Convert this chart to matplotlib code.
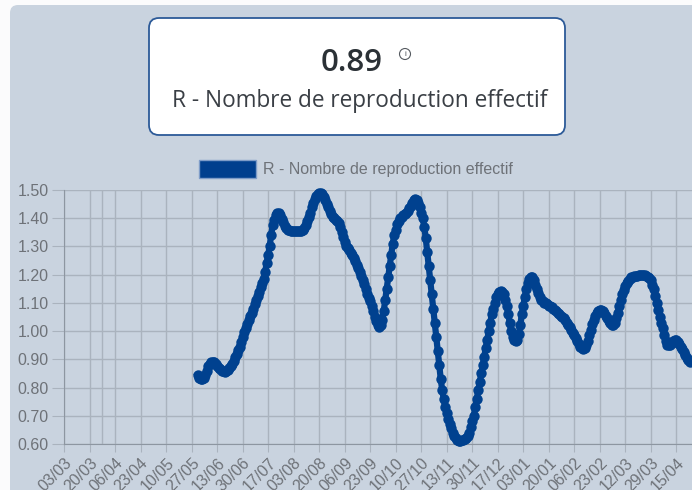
import matplotlib.pyplot as plt
import matplotlib.patches as mpl_patches
import pandas as pd

plt.rcParams['font.family'] = ['Liberation Sans', 'DejaVu Sans']

# daily R values, first value on 31/05/2020
start_date = '2020-05-31'
r_values = [
    0.844, 0.835, 0.830, 0.829, 0.835, 0.845, 0.860, 0.875, 0.885, 0.890,
    0.892, 0.890, 0.885, 0.878, 0.870, 0.864, 0.860, 0.857, 0.856, 0.857,
    0.862, 0.868, 0.876, 0.885, 0.895, 0.907, 0.920, 0.932, 0.945, 0.962,
    0.980, 0.998, 1.012, 1.026, 1.039, 1.052, 1.065, 1.080, 1.095, 1.110,
    1.125, 1.140, 1.155, 1.170, 1.185, 1.210, 1.240, 1.270, 1.300, 1.340,
    1.375, 1.395, 1.410, 1.417, 1.418, 1.410, 1.398, 1.385, 1.373, 1.365,
    1.360, 1.357, 1.355, 1.355, 1.354, 1.354, 1.354, 1.355, 1.355, 1.355,
    1.358, 1.365, 1.375, 1.390, 1.405, 1.420, 1.438, 1.455, 1.468, 1.478,
    1.485, 1.488, 1.488, 1.485, 1.475, 1.463, 1.450, 1.438, 1.427, 1.416,
    1.405, 1.400, 1.395, 1.390, 1.383, 1.370, 1.350, 1.333, 1.315, 1.300,
    1.293, 1.288, 1.278, 1.268, 1.258, 1.247, 1.235, 1.222, 1.210, 1.196,
    1.181, 1.166, 1.150, 1.133, 1.118, 1.105, 1.088, 1.070, 1.051, 1.035,
    1.022, 1.016, 1.020, 1.040, 1.070, 1.110, 1.150, 1.190, 1.230, 1.270,
    1.310, 1.340, 1.360, 1.380, 1.390, 1.400, 1.405, 1.410, 1.415, 1.420,
    1.425, 1.435, 1.445, 1.455, 1.465, 1.468, 1.465, 1.455, 1.440, 1.420,
    1.400, 1.370, 1.330, 1.280, 1.230, 1.180, 1.130, 1.080, 1.030, 0.980,
    0.930, 0.880, 0.830, 0.790, 0.760, 0.730, 0.710, 0.690, 0.670, 0.655,
    0.640, 0.630, 0.620, 0.615, 0.612, 0.612, 0.613, 0.615, 0.618, 0.622,
    0.628, 0.640, 0.660, 0.680, 0.700, 0.730, 0.760, 0.790, 0.820, 0.850,
    0.880, 0.910, 0.940, 0.970, 1.000, 1.030, 1.060, 1.080, 1.100, 1.120,
    1.130, 1.140, 1.142, 1.140, 1.130, 1.110, 1.090, 1.060, 1.030, 1.000,
    0.980, 0.970, 0.965, 0.970, 0.990, 1.020, 1.060, 1.090, 1.120, 1.150,
    1.170, 1.185, 1.193, 1.190, 1.180, 1.165, 1.150, 1.135, 1.120, 1.110,
    1.105, 1.100, 1.098, 1.095, 1.090, 1.088, 1.085, 1.080, 1.075, 1.070,
    1.065, 1.060, 1.055, 1.050, 1.045, 1.040, 1.030, 1.020, 1.015, 1.005,
    0.995, 0.985, 0.975, 0.965, 0.955, 0.945, 0.940, 0.938, 0.940, 0.950,
    0.965, 0.985, 1.005, 1.025, 1.040, 1.055, 1.065, 1.072, 1.075, 1.075,
    1.072, 1.065, 1.055, 1.045, 1.035, 1.027, 1.022, 1.022, 1.030, 1.045,
    1.065, 1.090, 1.110, 1.130, 1.145, 1.160, 1.170, 1.178, 1.185, 1.190,
    1.193, 1.195, 1.196, 1.197, 1.198, 1.198, 1.200, 1.200, 1.198, 1.195,
    1.192, 1.188, 1.180, 1.165, 1.150, 1.125, 1.100, 1.075, 1.050, 1.030,
    1.010, 0.985, 0.965, 0.952, 0.950, 0.952, 0.958, 0.965, 0.968, 0.968,
    0.962, 0.955, 0.945, 0.935, 0.925, 0.915, 0.905, 0.897, 0.890,
]

series_name = 'R - Nombre de reproduction effectif'
card_value = '0.89'
card_label = 'R - Nombre de reproduction effectif'
y_ticks = [0.60, 0.70, 0.80, 0.90, 1.00, 1.10, 1.20, 1.30, 1.40, 1.50]
x_tick_labels = ['03/03', '20/03', '06/04', '23/04', '10/05', '27/05', '13/06',
                 '30/06', '17/07', '03/08', '20/08', '06/09', '23/09', '10/10',
                 '27/10', '13/11', '30/11', '17/12', '03/01', '20/01', '06/02',
                 '23/02', '12/03', '29/03', '15/04']
axis_start = '2020-03-03'
extra_grid_date = '2020-03-28'

dates = pd.date_range(start_date, periods=len(r_values), freq='D')
tick_dates = pd.date_range(axis_start, periods=len(x_tick_labels), freq='17D')

line_color = '#00418f'
grid_color = '#aab3be'
text_color = '#6e7278'

fig = plt.figure(figsize=(6.92, 4.90), dpi=100)
fig.patch.set_facecolor('#fbfbfc')

# background / card layer in pixel coordinates
bg = fig.add_axes([0, 0, 1, 1], zorder=0)
bg.set_xlim(0, 692)
bg.set_ylim(490, 0)
bg.axis('off')
bg.add_patch(mpl_patches.FancyBboxPatch((10, 5), 720, 520,
             boxstyle='round,pad=0,rounding_size=8',
             facecolor='#c9d3df', edgecolor='none'))
bg.add_patch(mpl_patches.FancyBboxPatch((149, 18), 416, 117,
             boxstyle='round,pad=0,rounding_size=10',
             facecolor='white', edgecolor='#2c5a98', linewidth=1.3))
bg.text(352, 63, card_value, ha='center', va='center', fontsize=22.5,
        fontweight='semibold', color='#2b3136',
        family=['Open Sans', 'DejaVu Sans'])
bg.add_patch(mpl_patches.Circle((405, 54), 5.5, facecolor='none',
             edgecolor='#555a60', linewidth=0.8))
bg.text(405, 54.5, 'i', ha='center', va='center', fontsize=6, color='#555a60')
bg.text(360, 101, card_label, ha='center', va='center', fontsize=16.3,
        color='#3a3f45', family=['Open Sans', 'DejaVu Sans'])

# legend
bg.add_patch(mpl_patches.Rectangle((199, 160), 57, 18, facecolor='#003f8e',
             edgecolor='#7e9cc8', linewidth=1))
bg.text(263, 169, series_name, ha='left', va='center', fontsize=11.5,
        color=text_color)

# chart
ax = fig.add_axes([64 / 692, 46 / 490, 628 / 692, 254 / 490], zorder=1)
ax.patch.set_alpha(0)
x0 = pd.Timestamp(axis_start)
ax.set_xlim(x0, x0 + pd.Timedelta(days=418.4))
ax.set_ylim(0.60, 1.50)

ax.plot(dates, r_values, color=line_color, linewidth=4.5, marker='o',
        markersize=7.5, markeredgewidth=0, clip_on=False, zorder=3)

ax.set_yticks(y_ticks)
ax.set_yticklabels([f'{v:.2f}' for v in y_ticks])
ax.set_xticks(tick_dates)
ax.set_xticklabels(x_tick_labels, rotation=45, ha='right',
                   rotation_mode='anchor')
ax.axvline(pd.Timestamp(extra_grid_date), color=grid_color, linewidth=1, zorder=1)

ax.grid(True, color=grid_color, linewidth=1, zorder=1)
ax.set_axisbelow(True)
ax.tick_params(axis='y', length=9, color=grid_color, labelsize=11.5,
               labelcolor=text_color, pad=2)
ax.tick_params(axis='x', length=6, color=grid_color, labelsize=11.5,
               labelcolor=text_color, pad=2)
for side in ['top', 'right']:
    ax.spines[side].set_visible(False)
ax.spines['left'].set_color('#8d96a1')
ax.spines['bottom'].set_color('#8d96a1')

plt.savefig('out.png', dpi=100)
